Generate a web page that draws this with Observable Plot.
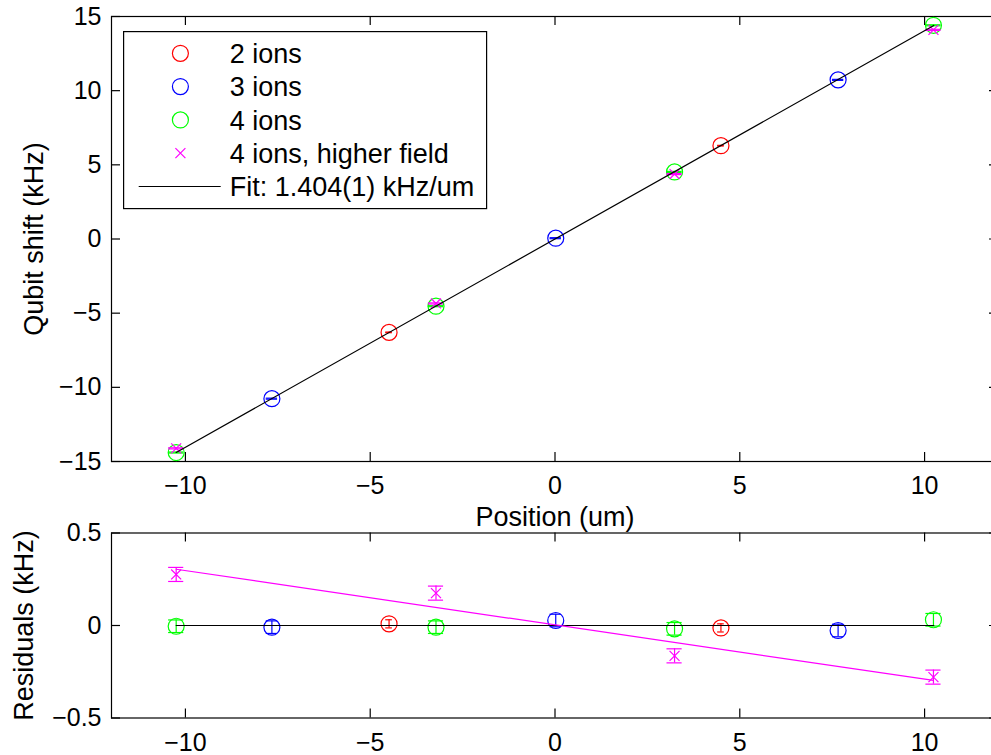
<!DOCTYPE html>
<html>
<head>
<meta charset="utf-8">
<script src="https://cdn.jsdelivr.net/npm/d3@7"></script>
<script src="https://cdn.jsdelivr.net/npm/@observablehq/plot@0.6"></script>
<style>
html, body { margin: 0; padding: 0; background: #fff; overflow: hidden; }
#wrap { position: relative; width: 991px; height: 755px; background: #fff;
  font-family: "Liberation Sans", Arial, Helvetica, sans-serif; }
#top, #bottom, #legend { position: absolute; left: 0; }
#top { top: 0; }
#bottom { top: 530px; }
#legend { left: 123px; top: 31px; }
svg { display: block; }
</style>
</head>
<body>
<div id="wrap"><div id="top"></div><div id="bottom"></div><div id="legend"></div></div>
<script>
// ---------- data ----------
const xTicks = [-10, -5, 0, 5, 10];
const yTicksShift = [-15, -10, -5, 0, 5, 10, 15];
const yTicksResid = [-0.5, 0, 0.5];

const seriesNames = ["2 ions", "3 ions", "4 ions", "4 ions, higher field"];
const fitLabel = "Fit: 1.404(1) kHz/um";

// 2 ions
const ions2X = [-4.49, 4.49];
const ions2Shift = [-6.295, 6.291];
const ions2Resid = [0.009, -0.013];
const ions2Err = [0.022, 0.022];

// 3 ions
const ions3X = [-7.66, 0.02, 7.66];
const ions3Shift = [-10.764, 0.055, 10.728];
const ions3Resid = [-0.009, 0.027, -0.027];
const ions3Err = [0.034, 0.034, 0.034];

// 4 ions
const ions4X = [-10.25, -3.22, 3.235, 10.24];
const ions4Shift = [-14.395, -4.530, 4.524, 14.408];
const ions4Resid = [-0.004, -0.009, -0.018, 0.031];
const ions4Err = [0.034, 0.034, 0.034, 0.034];

// 4 ions, higher field
const ions4hX = [-10.25, -3.22, 3.235, 10.24];
const ions4hShift = [-14.115, -4.346, 4.378, 14.098];
const ions4hResid = [0.276, 0.175, -0.164, -0.279];
const ions4hErr = [0.038, 0.038, 0.038, 0.038];

// fit lines
const fitX = [-10.25, 10.25];
const fitShift = [-14.39, 14.39];
const zeroX = [-10.25, 10.25];
const zeroResid = [0, 0];
const hfFitX = [-10.25, 10.24];
const hfFitResid = [0.304, -0.297];

// ---------- styling ----------
const FONT = '"Liberation Sans", Arial, Helvetica, sans-serif';
const TICK_FS = 25, LABEL_FS = 27;
const colors = ["#ff0000", "#0000ff", "#00ff00", "#ff00ff"];
const symbols = ["circle", "circle", "circle", "times"];
const SW = 1.2;
const fmt = d => String(d).replace("-", "\u2212");

function rowsOf(xs, shift, resid, err) {
  const tee = (d3.max(xs) - d3.min(xs)) / 100;
  return xs.map((x, i) => ({x, shift: shift[i], resid: resid[i], err: err[i], tee}));
}
const series = [
  rowsOf(ions2X, ions2Shift, ions2Resid, ions2Err),
  rowsOf(ions3X, ions3Shift, ions3Resid, ions3Err),
  rowsOf(ions4X, ions4Shift, ions4Resid, ions4Err),
  rowsOf(ions4hX, ions4hShift, ions4hResid, ions4hErr)
];
const pts = (xs, ys) => xs.map((x, i) => ({x, y: ys[i]}));

function seriesMarks(key) {
  const marks = [];
  series.forEach((rows, s) => {
    const c = colors[s];
    marks.push(
      Plot.ruleX(rows, {x: "x", y1: d => d[key] - d.err, y2: d => d[key] + d.err, stroke: c, strokeWidth: SW}),
      Plot.ruleY(rows, {y: d => d[key] - d.err, x1: d => d.x - d.tee, x2: d => d.x + d.tee, stroke: c, strokeWidth: SW}),
      Plot.ruleY(rows, {y: d => d[key] + d.err, x1: d => d.x - d.tee, x2: d => d.x + d.tee, stroke: c, strokeWidth: SW})
    );
    if (symbols[s] === "circle") {
      marks.push(Plot.dot(rows, {x: "x", y: key, r: 8, stroke: c, fill: "none", strokeWidth: SW}));
    } else {
      marks.push(Plot.dot(rows, {x: "x", y: key, r: 4.6, symbol: "times", stroke: c, strokeWidth: SW}));
    }
  });
  return marks;
}

function frameTicks(yTicks, frameW, frameH, tl) {
  return [
    Plot.frame({stroke: "black", strokeWidth: 1.2}),
    Plot.tickX(xTicks, {x: d => d, insetTop: frameH - tl, stroke: "black", strokeWidth: 1.2}),
    Plot.tickX(xTicks, {x: d => d, insetBottom: frameH - tl, stroke: "black", strokeWidth: 1.2}),
    Plot.tickY(yTicks, {y: d => d, insetRight: frameW - tl, stroke: "black", strokeWidth: 1.2}),
    Plot.tickY(yTicks, {y: d => d, insetLeft: frameW - tl, stroke: "black", strokeWidth: 1.2}),
    Plot.axisX({ticks: xTicks, anchor: "bottom", tickSize: 0, tickPadding: 15, fontSize: TICK_FS, tickFormat: fmt, label: null}),
    Plot.axisY({ticks: yTicks, anchor: "left", tickSize: 0, tickPadding: 10, fontSize: TICK_FS, tickFormat: fmt, label: null})
  ];
}

const ML = 111, MR = -7;
const frameW = 991 - ML - MR;

// ---------- top panel ----------
const topH = 530, topMT = 16, topMB = 69;
const topPlot = Plot.plot({
  width: 991, height: topH,
  marginLeft: ML, marginRight: MR, marginTop: topMT, marginBottom: topMB,
  x: {domain: [-12, 12]},
  y: {domain: [-15, 15]},
  style: {fontFamily: FONT, fontSize: TICK_FS + "px", color: "black", background: "none", overflow: "visible", maxWidth: "none"},
  marks: [
    ...frameTicks(yTicksShift, frameW, topH - topMT - topMB, 9),
    ...seriesMarks("shift"),
    Plot.line(pts(fitX, fitShift), {x: "x", y: "y", stroke: "black", strokeWidth: SW}),
    Plot.text(["Position (um)"], {frameAnchor: "bottom", text: d => d, dy: 64.7, lineAnchor: "bottom", textAnchor: "middle", fontSize: LABEL_FS, fill: "black"}),
    Plot.text(["Qubit shift (kHz)"], {frameAnchor: "left", text: d => d, rotate: -90, dx: -69, lineAnchor: "bottom", textAnchor: "middle", fontSize: LABEL_FS, fill: "black"})
  ]
});
document.getElementById("top").appendChild(topPlot);

// ---------- residual panel ----------
const botH = 225, botMT = 2.5, botMB = 37.5;
const botPlot = Plot.plot({
  width: 991, height: botH,
  marginLeft: ML, marginRight: MR, marginTop: botMT, marginBottom: botMB,
  x: {domain: [-12, 12]},
  y: {domain: [-0.5, 0.5]},
  style: {fontFamily: FONT, fontSize: TICK_FS + "px", color: "black", background: "none", overflow: "visible", maxWidth: "none"},
  marks: [
    ...frameTicks(yTicksResid, frameW, botH - botMT - botMB, 9),
    ...seriesMarks("resid"),
    Plot.line(pts(zeroX, zeroResid), {x: "x", y: "y", stroke: "black", strokeWidth: SW}),
    Plot.line(pts(hfFitX, hfFitResid), {x: "x", y: "y", stroke: colors[3], strokeWidth: SW}),
    Plot.text(["Residuals (kHz)"], {frameAnchor: "left", text: d => d, rotate: -90, dx: -79, lineAnchor: "bottom", textAnchor: "middle", fontSize: LABEL_FS, fill: "black"})
  ]
});
document.getElementById("bottom").appendChild(botPlot);

// ---------- legend ----------
const LW = 363, LH = 177;
const leg = d3.select("#legend").append("svg")
  .attr("width", LW + 2).attr("height", LH + 2)
  .style("font-family", FONT);
leg.append("rect").attr("x", 0.6).attr("y", 0.6).attr("width", LW).attr("height", LH)
  .attr("fill", "white").attr("stroke", "black").attr("stroke-width", 1.2);
const rowY = [22.3, 55.6, 88.9, 122.2, 155.5];
const labels = [...seriesNames, fitLabel];
labels.forEach((lab, i) => {
  const cy = rowY[i];
  if (i < 3) {
    leg.append("circle").attr("cx", 57.4).attr("cy", cy).attr("r", 8)
      .attr("fill", "none").attr("stroke", colors[i]).attr("stroke-width", SW);
  } else if (i === 3) {
    const h = 5;
    leg.append("path").attr("d", `M${57.4 - h},${cy - h}L${57.4 + h},${cy + h}M${57.4 - h},${cy + h}L${57.4 + h},${cy - h}`)
      .attr("stroke", colors[3]).attr("stroke-width", SW).attr("fill", "none");
  } else {
    leg.append("line").attr("x1", 15.7).attr("x2", 97.7).attr("y1", cy).attr("y2", cy)
      .attr("stroke", "black").attr("stroke-width", SW);
  }
  leg.append("text").attr("x", 106.7).attr("y", cy + 9.6).attr("font-size", LABEL_FS)
    .attr("fill", "black").text(lab);
});
</script>
</body>
</html>
